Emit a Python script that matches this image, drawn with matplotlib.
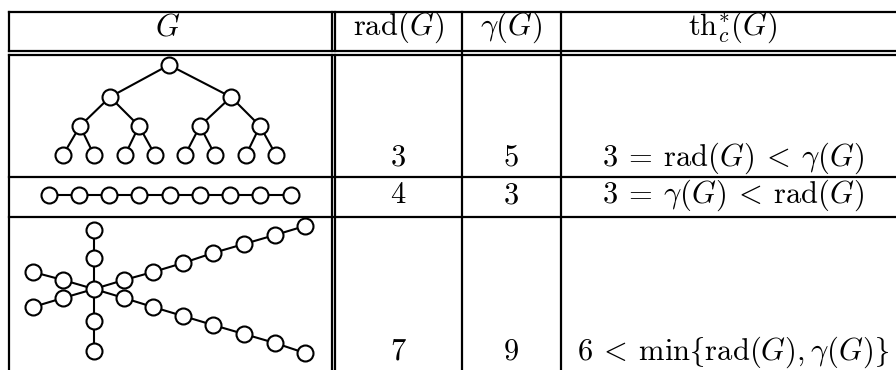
import matplotlib
matplotlib.use("Agg")
import matplotlib.pyplot as plt

plt.rcParams['mathtext.fontset'] = 'cm'
plt.rcParams['font.family'] = ['DejaVu Serif']

# ---- table content ----
headers = [r"$G$", r"$\mathrm{rad}(G)$", r"$\gamma(G)$", r"$\mathrm{th}^{*}_{c}(G)$"]
rad_values = [3, 4, 7]
gamma_values = [5, 3, 9]
th_texts = [r"$3 \:=\: \mathrm{rad}(G) \:<\: \gamma(G)$",
            r"$3 \:=\: \gamma(G) \:<\: \mathrm{rad}(G)$",
            r"$6 \:<\: \min\lbrace\mathrm{rad}(G), \gamma(G)\rbrace$"]

# ---- graph drawings (node positions in table pixel units) ----
# complete binary tree of depth 3
tree_x = [169, 110, 231, 80, 139, 200, 260, 63, 94, 125, 155, 185, 215, 246, 276]
tree_y = [65, 97, 97, 126, 126, 126, 126, 155, 155, 155, 155, 155, 155, 155, 155]
tree_edges = [(0, 1), (0, 2), (1, 3), (1, 4), (2, 5), (2, 6),
              (3, 7), (3, 8), (4, 9), (4, 10), (5, 11), (5, 12), (6, 13), (6, 14)]

# path on 9 vertices
path_x = [49, 79, 109, 139, 170, 200, 230, 260, 291]
path_y = [195, 195, 195, 195, 195, 195, 195, 195, 195]

# spider: centre + arms
spider_center = (94, 289)
spider_arms_x = [
    [94, 94],
    [94, 94],
    [63, 33],
    [63, 33],
    [124, 153, 183, 213, 244, 275, 305],
    [124, 153, 183, 213, 244, 275, 305],
]
spider_arms_y = [
    [258, 230],
    [321, 351],
    [280, 272],
    [298, 307],
    [280, 272, 263, 253, 244, 235, 226],
    [298, 307, 316, 325, 334, 343, 353],
]

# ---- figure ----
W, H = 896, 370
fig = plt.figure(figsize=(W / 100, H / 100), dpi=100)
ax = fig.add_axes([0, 0, 1, 1])
ax.set_xlim(0, W)
ax.set_ylim(H, 0)
ax.axis('off')

lw = 1.6
k = 'black'
# horizontal rules
ax.plot([9, W], [12, 12], color=k, lw=lw)
ax.plot([9, W], [51, 51], color=k, lw=lw)
ax.plot([9, W], [55, 55], color=k, lw=lw)
ax.plot([9, W], [177, 177], color=k, lw=lw)
ax.plot([9, W], [217, 217], color=k, lw=lw)
# vertical rules
ax.plot([9, 9], [12, 51], color=k, lw=lw)
ax.plot([9, 9], [55, H], color=k, lw=lw)
for xv in (331.5, 335):
    ax.plot([xv, xv], [12, 51], color=k, lw=lw)
    ax.plot([xv, xv], [55, H], color=k, lw=lw)
ax.plot([462, 462], [12, H], color=k, lw=lw)
ax.plot([561, 561], [12, H], color=k, lw=lw)

fs = 22
col_cx = [168, 398, 511, 733]
for cx, h in zip(col_cx, headers):
    ax.text(cx, 35, h, ha='center', va='baseline', fontsize=fs)

row_base = [166, 203, 360]
for i in range(3):
    ax.text(col_cx[1], row_base[i], f"${rad_values[i]}$", ha='center', va='baseline', fontsize=fs)
    ax.text(col_cx[2], row_base[i], f"${gamma_values[i]}$", ha='center', va='baseline', fontsize=fs)
    ax.text(col_cx[3], row_base[i], th_texts[i], ha='center', va='baseline', fontsize=fs)

ms = 11.5
elw = 1.5
def nodes(xs, ys):
    ax.plot(xs, ys, linestyle='none', marker='o', markersize=ms,
            markerfacecolor='white', markeredgecolor=k, markeredgewidth=elw, zorder=3)

# tree
for a, b in tree_edges:
    ax.plot([tree_x[a], tree_x[b]], [tree_y[a], tree_y[b]], color=k, lw=elw, zorder=2)
nodes(tree_x, tree_y)

# path
ax.plot(path_x, path_y, color=k, lw=elw, zorder=2)
nodes(path_x, path_y)

# spider
cx0, cy0 = spider_center
for ax_x, ax_y in zip(spider_arms_x, spider_arms_y):
    ax.plot([cx0] + ax_x, [cy0] + ax_y, color=k, lw=elw, zorder=2)
    nodes(ax_x, ax_y)
nodes([cx0], [cy0])

fig.savefig("out.png", dpi=100, facecolor='white')
